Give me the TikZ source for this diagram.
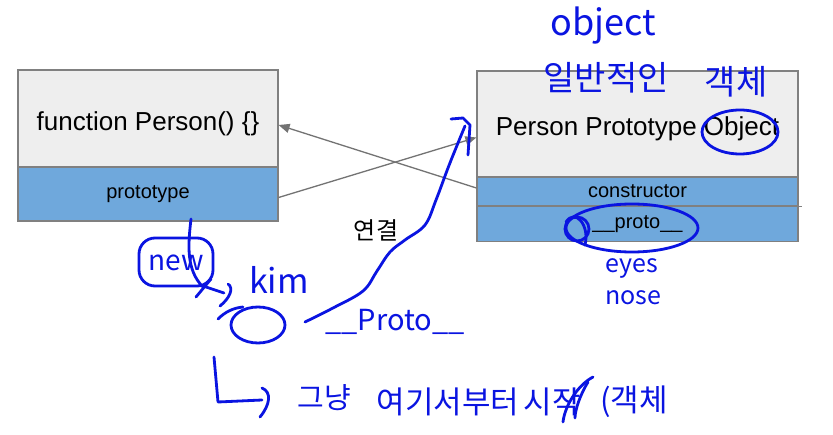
\documentclass[tikz,border=0pt]{standalone}
\usepackage{fontspec}
\setmainfont{Liberation Sans}
\newfontfamily\kr{Noto Sans CJK KR}
\usetikzlibrary{arrows.meta}
\definecolor{boxgray}{HTML}{EEEEEE}
\definecolor{boxblue}{HTML}{6FA8DC}
\definecolor{edgegray}{HTML}{808080}
\definecolor{linegray}{HTML}{737373}
\definecolor{pen}{RGB}{10,20,225}
\tikzset{
 part/.style={draw=edgegray, line width=1.2pt, inner sep=0pt, text=black},
 topbox/.style={part, fill=boxgray},
 fieldbox/.style={part, fill=boxblue, font=\fontsize{20}{24}\selectfont},
 toptext/.style={inner sep=0pt, font=\fontsize{26}{30}\selectfont},
 link/.style={draw=linegray, line width=1.3pt, -{Triangle[length=11pt,width=9pt]}},
 penline/.style={draw=pen, line width=2.8pt, line cap=round, line join=round},
 hand/.style={text=pen, font=\kr\fontsize{#1}{#1}\selectfont, inner sep=0pt},
}
\begin{document}
\begin{tikzpicture}[x=1pt,y=-1pt]
\useasboundingbox[fill=white] (0,0) rectangle (833,435);
% left object
\node[topbox, minimum width=260pt, minimum height=97pt] (fn) at (148,118.5) {};
\node[toptext] (fntext) at ([yshift=-5pt]fn.center) {function Person() \{\}};
\node[fieldbox, minimum width=260pt, minimum height=54pt] (fnproto) at (148,194) {prototype};
% right object
\node[topbox, minimum width=321pt, minimum height=106pt] (pp) at (637.5,124) {};
\node[toptext] (pptext) at ([yshift=-5pt]pp.center) {Person Prototype Object};
\node[fieldbox, minimum width=321pt, minimum height=29pt] (ctor) at (637.5,191.5) {constructor};
\node[fieldbox, minimum width=321pt, minimum height=35.5pt] (proto) at (637.5,224) {\_\_proto\_\_};
\draw[edgegray, line width=1.2pt] (ctor.south east) -- ++(3,0);
% connectors
\draw[link] ([yshift=3.5pt]ctor.west) -- ([yshift=-6.5pt]fn.east);
\draw[link] ([yshift=-3.5pt]fnproto.east) -- ([yshift=-13.5pt]pp.west);
\node[font=\kr\fontsize{24}{24}\selectfont, inner sep=0pt] (lk) at (376,230) {연결};
% handwriting
\node[hand=36] (hobj) at (603,26) {object};
\node[hand=34] (hgen) at (606,78) {일반적인};
\node[hand=34] (hgk) at (736,82) {객체};
\draw[penline] (740,132) ellipse [x radius=38, y radius=22];
\draw[penline] (632,228) ellipse [x radius=66, y radius=24];
\draw[penline] (577,229) circle (12);
\draw[penline] (566,222) .. controls (575,208) and (590,225) .. (585,245);
\node[hand=25] (heyes) at (632,268) {eyes};
\node[hand=25] (hnose) at (633,298) {nose};
% new -> kim
\draw[penline, rounded corners=16pt] (139,238) rectangle (213,286);
\node[hand=28] (hnew) at (176,263) {new};
\draw[penline] (191,219) .. controls (188,245) and (186,270) .. (203,287);
\draw[penline] (196,297) -- (211,279);
\draw[penline] (200,285) -- (224,293);
\draw[penline] (228,284) .. controls (234,288) and (230,298) .. (220,306);
\node[hand=34] (hkim) at (279,280) {kim};
\draw[penline] (258,325) ellipse [x radius=27, y radius=18];
\draw[penline] (218,319) .. controls (225,312) and (233,308) .. (243,307);
\node[hand=29] (hpr) at (395,322) {\_\_Proto\_\_};
% long arrow
\draw[penline] plot[smooth, tension=0.6] coordinates {(305,322) (333,308) (363,291) (377,271) (390,252) (405,240) (425,225) (436,200) (448,168) (458,143) (465,126)};
\draw[penline] (451,119) -- (463,118) -- (470,125) -- (468,155);
% bottom note
\draw[penline] (214,357) -- (218,402) -- (262,400);
\draw[penline] (262,388) .. controls (272,392) and (270,405) .. (260,417);
\node[hand=29] (hn1) at (324,398) {그냥};
\node[hand=31] (hn2) at (448,402) {여기서부터};
\node[hand=31] (hn3) at (552,402) {시작};
\node[hand=31] (hn4) at (634,402) {(객체};
\draw[penline] (593,377) .. controls (578,385) and (565,405) .. (563,422);
\draw[penline] (588,382) .. controls (580,395) and (575,410) .. (575,418);
\end{tikzpicture}
\end{document}
